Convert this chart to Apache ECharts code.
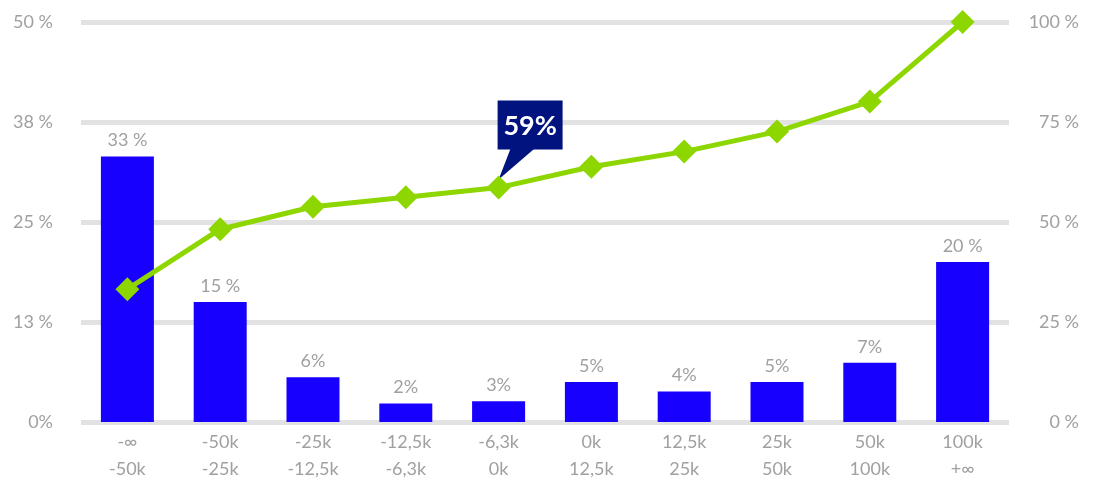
<!DOCTYPE html>
<html>
<head>
<meta charset="utf-8">
<title>Distribution and cumulative share</title>
<script src="https://cdn.jsdelivr.net/npm/echarts@6/dist/echarts.min.js"></script>
<style>
  html, body { margin: 0; padding: 0; background: #ffffff; }
  #chart { width: 1093px; height: 484px; }
</style>
</head>
<body>
<div id="chart"></div>
<script>
// Bucket bounds (lower / upper) shown as two-line category labels
const lowerBounds = ['-∞', '-50k', '-25k', '-12,5k', '-6,3k', '0k', '12,5k', '25k', '50k', '100k'];
const upperBounds = ['-50k', '-25k', '-12,5k', '-6,3k', '0k', '12,5k', '25k', '50k', '100k', '+∞'];

// Share of each bucket (%), left axis
const shareValues = [33.2, 15.0, 5.6, 2.3, 2.6, 5.0, 3.8, 5.0, 7.4, 20.0];

// Cumulative share (%), right axis
const cumulativeValues = [33.2, 48.2, 53.8, 56.2, 58.6, 63.8, 67.6, 72.6, 80.1, 100];

// Left axis ticks (0..50 by 12.5) and right axis ticks (0..100 by 25)
const leftTicks = [0, 12.5, 25, 37.5, 50];
const rightTicks = [0, 25, 50, 75, 100];

// Index of the highlighted cumulative point
const calloutIndex = 4;

const categories = lowerBounds.map((lo, i) => lo + '\n' + upperBounds[i]);

const FONT = 'Lato, "Open Sans", sans-serif';
const GREY = '#a0a0a0';
const FS = 18;

const pct = v => {
  const r = Math.round(v);
  return r < 10 ? r + '%' : r + ' %';
};

const chart = echarts.init(document.getElementById('chart'), null, { renderer: 'canvas' });

chart.setOption({
  animation: false,
  backgroundColor: '#ffffff',
  grid: { left: 81, right: 84, top: 22, bottom: 62, containLabel: false },
  xAxis: {
    type: 'category',
    data: categories,
    axisLine: { show: false },
    axisTick: { show: false },
    axisLabel: {
      color: GREY,
      fontFamily: FONT,
      fontSize: FS,
      lineHeight: 27,
      margin: 7,
      interval: 0
    }
  },
  yAxis: [
    {
      type: 'value',
      min: leftTicks[0],
      max: leftTicks[leftTicks.length - 1],
      interval: leftTicks[1] - leftTicks[0],
      axisLine: { show: false },
      axisTick: { show: false },
      splitLine: { lineStyle: { color: '#e2e2e2', width: 5 } },
      axisLabel: {
        color: GREY,
        fontFamily: FONT,
        fontSize: FS,
        margin: 28,
        formatter: v => pct(v)
      }
    },
    {
      type: 'value',
      min: rightTicks[0],
      max: rightTicks[rightTicks.length - 1],
      interval: rightTicks[1] - rightTicks[0],
      position: 'right',
      axisLine: { show: false },
      axisTick: { show: false },
      splitLine: { show: false },
      axisLabel: {
        color: GREY,
        fontFamily: FONT,
        fontSize: FS,
        margin: 70,
        align: 'right',
        formatter: v => Math.round(v) + ' %'
      }
    }
  ],
  series: [
    {
      name: 'Share',
      type: 'bar',
      yAxisIndex: 0,
      data: shareValues,
      barWidth: 53,
      itemStyle: { color: '#1800ff' },
      label: {
        show: true,
        position: 'top',
        distance: 7,
        color: GREY,
        fontFamily: FONT,
        fontSize: FS,
        formatter: p => pct(p.value)
      }
    },
    {
      name: 'Cumulative',
      type: 'line',
      yAxisIndex: 1,
      data: cumulativeValues,
      symbol: 'diamond',
      symbolSize: 24,
      lineStyle: { color: '#8ed600', width: 5 },
      itemStyle: { color: '#8ed600' },
      z: 3
    }
  ]
});

// Callout bubble pointing at the highlighted cumulative point
const pt = chart.convertToPixel({ seriesIndex: 1 }, [calloutIndex, cumulativeValues[calloutIndex]]);
const boxW = 65, boxH = 49;
const boxLeft = pt[0] - 1;
const boxTop = pt[1] - 87;
const boxBottom = boxTop + boxH;
const NAVY = '#00137f';

chart.setOption({
  graphic: [
    {
      type: 'polygon',
      z: 2,
      shape: { points: [[boxLeft + 13, boxBottom - 1], [boxLeft + 37, boxBottom - 1], [pt[0], pt[1] - 8]] },
      style: { fill: NAVY }
    },
    {
      type: 'rect',
      z: 2,
      shape: { x: boxLeft, y: boxTop, width: boxW, height: boxH },
      style: { fill: NAVY }
    },
    {
      type: 'text',
      z: 2,
      x: boxLeft + boxW / 2,
      y: boxTop + boxH / 2 + 1,
      style: {
        text: Math.round(cumulativeValues[calloutIndex]) + '%',
        fill: '#ffffff',
        font: 'bold 27px ' + FONT,
        align: 'center',
        verticalAlign: 'middle'
      }
    }
  ]
});
</script>
</body>
</html>
